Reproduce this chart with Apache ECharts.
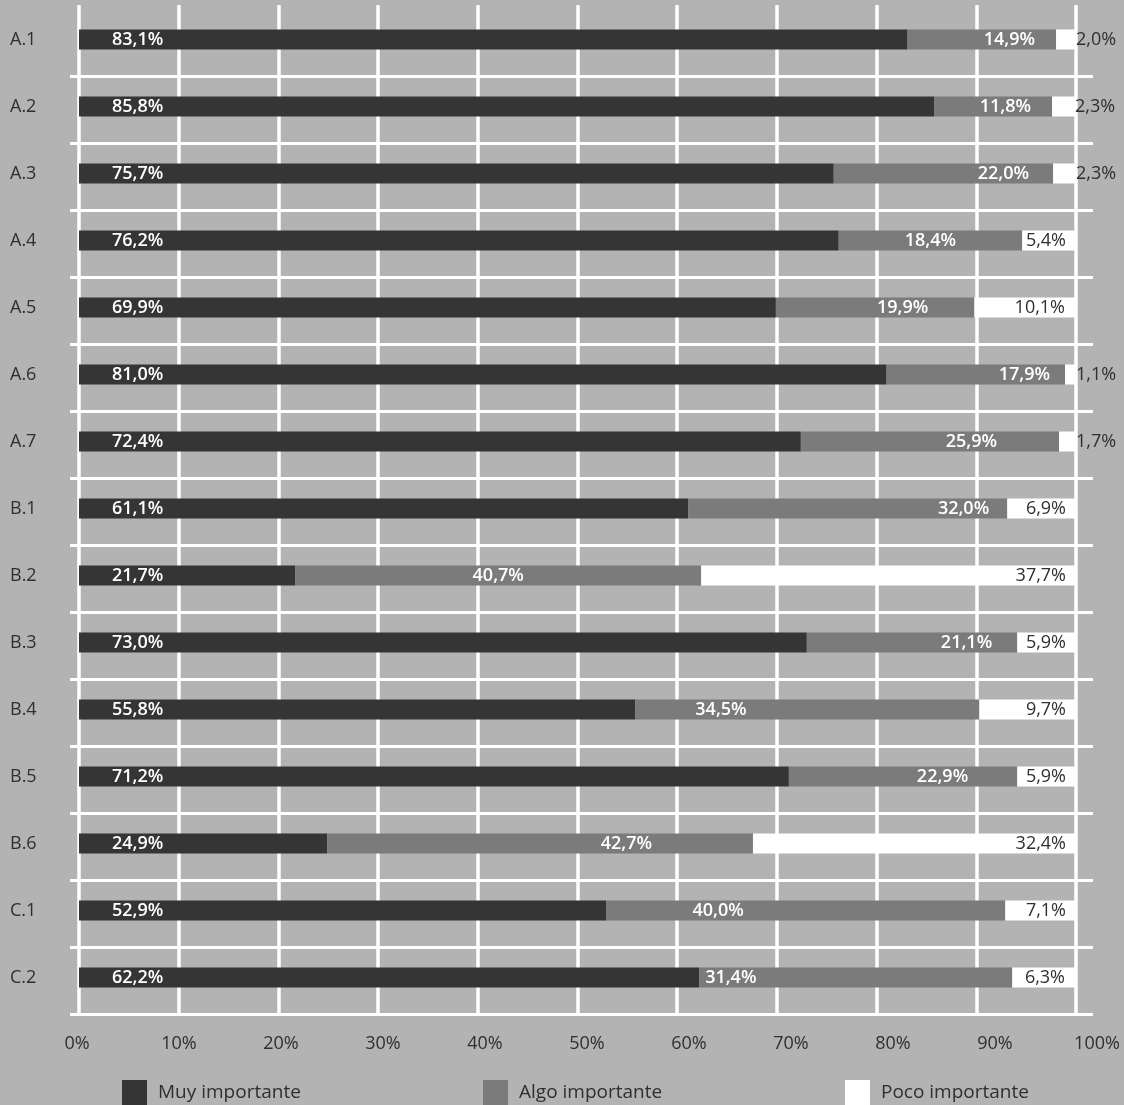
<!DOCTYPE html>
<html>
<head>
<meta charset="utf-8">
<script src="https://cdn.jsdelivr.net/npm/echarts@6/dist/echarts.min.js"></script>
<style>
html,body{margin:0;padding:0;background:#b3b3b3;}
#chart{width:1124px;height:1105px;}
</style>
</head>
<body>
<div id="chart"></div>
<script>
const categories = ['A.1','A.2','A.3','A.4','A.5','A.6','A.7','B.1','B.2','B.3','B.4','B.5','B.6','C.1','C.2'];
const muyImportante  = [83.1, 85.8, 75.7, 76.2, 69.9, 81.0, 72.4, 61.1, 21.7, 73.0, 55.8, 71.2, 24.9, 52.9, 62.2];
const algoImportante = [14.9, 11.8, 22.0, 18.4, 19.9, 17.9, 25.9, 32.0, 40.7, 21.1, 34.5, 22.9, 42.7, 40.0, 31.4];
const pocoImportante = [2.0, 2.3, 2.3, 5.4, 10.1, 1.1, 1.7, 6.9, 37.7, 5.9, 9.7, 5.9, 32.4, 7.1, 6.3];
const seriesNames = ['Muy importante', 'Algo importante', 'Poco importante'];
const xTickValues = [0, 10, 20, 30, 40, 50, 60, 70, 80, 90, 100];

// label placement for the middle segment (style only)
const algoLabelPlacement = [
  ['insideRight', 21], ['insideRight', 21], ['insideRight', 24], ['inside', 0],
  ['insideRight', 46], ['insideRight', 15], ['insideRight', 62], ['insideRight', 18],
  ['inside', 0], ['insideRight', 25], ['insideLeft', 60], ['insideRight', 49],
  ['insideRight', 101], ['insideLeft', 86], ['insideLeft', 6]
];

const FONT = '"Open Sans", "Noto Sans", sans-serif';
const fmt = v => v.toFixed(1).replace('.', ',') + '%';

const chart = echarts.init(document.getElementById('chart'), null, {renderer: 'canvas'});

const valueLabelStyle = {fontFamily: FONT, fontSize: 18, fontWeight: 600};

const option = {
  backgroundColor: '#b3b3b3',
  animation: false,
  grid: [
    {left: 79, right: 48, top: 6, bottom: 94},   // bars
    {left: 79, right: 48, top: 5, bottom: 90},   // vertical grid lines
    {left: 70, right: 31, top: 76, bottom: 91},  // horizontal separators
    {left: 77, right: 27, top: 5, bottom: 90}    // tick labels
  ],
  xAxis: [
    {gridIndex: 0, type: 'value', min: 0, max: 100, show: false},
    {gridIndex: 1, type: 'value', min: 0, max: 100, interval: 10,
      axisLine: {show: false}, axisTick: {show: false}, axisLabel: {show: false},
      splitLine: {show: true, lineStyle: {color: '#ffffff', width: 3.5}}},
    {gridIndex: 2, type: 'value', min: 0, max: 1, show: false},
    {gridIndex: 3, type: 'value', min: 0, max: 100, interval: 10,
      axisLine: {show: false}, axisTick: {show: false}, splitLine: {show: false},
      axisLabel: {show: true, margin: 20, color: '#2f2f2f', fontFamily: FONT, fontSize: 18, fontWeight: 500,
        formatter: v => (xTickValues.indexOf(v) >= 0 ? v + '%' : '')}}
  ],
  yAxis: [
    {gridIndex: 0, type: 'category', data: categories, inverse: true,
      axisLine: {show: false}, axisTick: {show: false}, splitLine: {show: false},
      axisLabel: {align: 'left', margin: 69, color: '#2f2f2f', fontFamily: FONT, fontSize: 18, fontWeight: 500,
        padding: [3, 0, 0, 0]}},
    {gridIndex: 1, type: 'value', min: 0, max: 1, show: false},
    {gridIndex: 2, type: 'value', min: 0, max: categories.length - 1, interval: 1,
      axisLine: {show: false}, axisTick: {show: false}, axisLabel: {show: false},
      splitLine: {show: true, lineStyle: {color: '#ffffff', width: 3}}},
    {gridIndex: 3, type: 'value', min: 0, max: 1, show: false}
  ],
  legend: seriesNames.map((name, i) => ({
    data: [name],
    left: [122, 483, 845][i],
    top: 1080,
    padding: 0,
    icon: 'rect',
    itemWidth: 25,
    itemHeight: 25,
    selectedMode: false,
    textStyle: {fontFamily: FONT, fontSize: 19, color: '#2f2f2f', padding: [0, 0, 0, 6]}
  })),
  series: [
    {
      name: seriesNames[0], type: 'bar', stack: 'total', xAxisIndex: 0, yAxisIndex: 0,
      barWidth: 20,
      itemStyle: {color: '#353535'},
      data: muyImportante,
      label: Object.assign({show: true, position: 'insideLeft', distance: 33, color: '#ffffff',
        formatter: p => fmt(p.value)}, valueLabelStyle)
    },
    {
      name: seriesNames[1], type: 'bar', stack: 'total', xAxisIndex: 0, yAxisIndex: 0,
      barWidth: 20,
      itemStyle: {color: '#7b7b7b'},
      data: algoImportante.map((v, i) => ({
        value: v,
        label: {position: algoLabelPlacement[i][0], distance: algoLabelPlacement[i][1]}
      })),
      label: Object.assign({show: true, color: '#ffffff', formatter: p => fmt(p.value)}, valueLabelStyle)
    },
    {
      name: seriesNames[2], type: 'bar', stack: 'total', xAxisIndex: 0, yAxisIndex: 0,
      barWidth: 20,
      itemStyle: {color: '#ffffff'},
      data: pocoImportante.map(v => ({
        value: v,
        label: v < 3 ? {position: 'right', distance: 0} : {position: 'insideRight', distance: 10}
      })),
      label: {show: true, color: '#2f2f2f', fontFamily: FONT, fontSize: 18, fontWeight: 500,
        formatter: p => fmt(p.value)}
    }
  ]
};

chart.setOption(option);
</script>
</body>
</html>
